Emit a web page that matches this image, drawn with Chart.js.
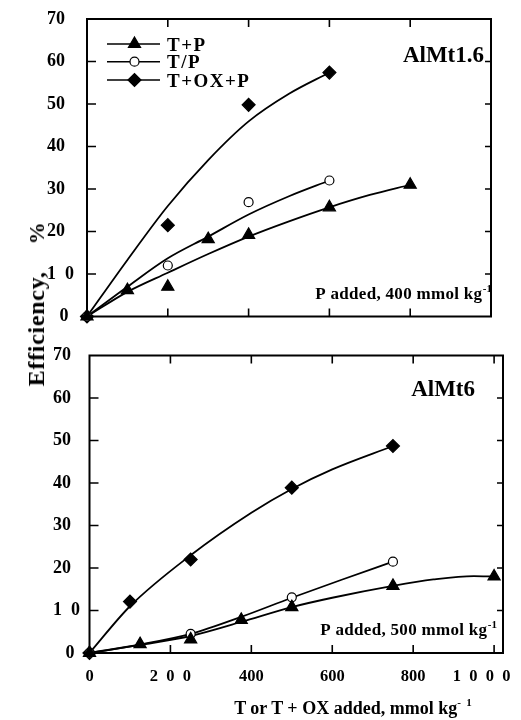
<!DOCTYPE html>
<html><head><meta charset="utf-8">
<script src="https://cdn.jsdelivr.net/npm/chart.js@4/dist/chart.umd.min.js"></script>
<style>
html,body{margin:0;padding:0;background:#fff;width:521px;height:720px;overflow:hidden;}
canvas{position:absolute;left:0;}
#c1{top:0;}
#c2{top:330px;}
.t{position:absolute;font-family:'Liberation Serif','Times New Roman',serif;font-weight:bold;color:#000;white-space:nowrap;line-height:1;}
#ytitle{left:36px;top:303.5px;font-size:24px;letter-spacing:0.7px;transform:translate(-50%,-50%) rotate(-90deg);}
#ytitle .pc{margin-left:27px;font-size:22px;}
#xtitle{left:353px;top:707px;font-size:18px;transform:translate(-50%,-50%);}
#xtitle sup{font-size:11px;vertical-align:8px;}
</style></head><body>
<canvas id="c1" width="521" height="330"></canvas>
<canvas id="c2" width="521" height="390"></canvas>
<div class="t" id="ytitle">Efficiency,<span class="pc">%</span></div>
<div class="t" id="xtitle">T or T + OX added, mmol kg<sup>- &nbsp;1</sup></div>
<script>
// ---------- data ----------
const seriesNames = ['T+P', 'T/P', 'T+OX+P'];
const yTickValues = [0, 10, 20, 30, 40, 50, 60, 70];
const yTickLabels = ['\u2002\u20090', '1\u20020', '20', '30', '40', '50', '60', '70'];
const xTickValues = [0, 200, 400, 600, 800, 1000];
const xTickLabels = ['0', '2\u20020\u20020', '400', '600', '800', '1\u20020\u20020\u20020\u2002\u2002\u2002'];

// Panel AlMt1.6 (P added 400 mmol/kg) - measured points
const top_TP_x = [0, 100, 200, 300, 400, 600, 800];
const top_TP_y = [0, 6.2, 7.0, 18.2, 19.2, 25.7, 31.0];
const top_TsP_x = [0, 200, 400, 600];
const top_TsP_y = [0, 12.0, 26.9, 32.0];
const top_TOXP_x = [0, 200, 400, 600];
const top_TOXP_y = [0, 21.5, 49.8, 57.4];
// Panel AlMt1.6 - fitted curves
const top_TP_fit_x = [0, 100, 200, 300, 400, 500, 600, 700, 800];
const top_TP_fit_y = [0, 5.8, 10.3, 14.7, 18.8, 22.4, 25.7, 28.6, 31.0];
const top_TsP_fit_x = [0, 100, 200, 300, 400, 500, 600];
const top_TsP_fit_y = [0, 7.0, 13.7, 18.8, 24.0, 28.3, 32.0];
const top_TOXP_fit_x = [0, 100, 200, 300, 400, 500, 600];
const top_TOXP_fit_y = [0, 13.3, 26.0, 36.8, 45.9, 52.4, 57.4];

// Panel AlMt6 (P added 500 mmol/kg) - measured points
const bot_TP_x = [0, 125, 250, 375, 500, 750, 1000];
const bot_TP_y = [0, 2.1, 3.2, 7.8, 10.8, 15.8, 18.0];
const bot_TsP_x = [0, 250, 500, 750];
const bot_TsP_y = [0, 4.5, 13.1, 21.5];
const bot_TOXP_x = [0, 100, 250, 500, 750];
const bot_TOXP_y = [0, 12.1, 22.0, 38.9, 48.7];
// Panel AlMt6 - fitted curves
const bot_TP_fit_x = [0, 125, 250, 375, 500, 600, 750, 850, 950, 1000];
const bot_TP_fit_y = [0, 1.9, 4.0, 7.3, 10.8, 13.0, 15.8, 17.3, 18.1, 18.0];
const bot_TsP_fit_x = [0, 125, 250, 375, 500, 625, 750];
const bot_TsP_fit_y = [0, 2.0, 4.5, 8.5, 13.0, 17.3, 21.5];
const bot_TOXP_fit_x = [0, 100, 250, 400, 500, 600, 750];
const bot_TOXP_fit_y = [0, 11.0, 23.0, 33.0, 38.6, 43.2, 48.7];

// ---------- helpers ----------
const FONT = "'Liberation Serif','Times New Roman',serif";
const pts = (xs, ys) => xs.map((x, i) => ({x: x, y: ys[i]}));
const markerStyles = [
  {pointStyle: 'triangle', radius: 7, fill: '#000'},
  {pointStyle: 'circle', radius: 4.5, fill: '#fff'},
  {pointStyle: 'rectRot', radius: 6.5, fill: '#000'}
];
function pointSet(i, xs, ys) {
  const m = markerStyles[i];
  return {label: seriesNames[i], data: pts(xs, ys), showLine: false,
    pointStyle: m.pointStyle, pointRadius: m.radius, pointHoverRadius: m.radius,
    pointBackgroundColor: m.fill, pointBorderColor: '#000', pointBorderWidth: 1.2,
    clip: false, order: 0};
}
function curveSet(i, xs, ys) {
  return {label: seriesNames[i] + ' fit', data: pts(xs, ys), showLine: true,
    borderColor: '#000', borderWidth: 1.8, pointRadius: 0, pointHoverRadius: 0,
    cubicInterpolationMode: 'monotone', fill: false, clip: false, order: 1};
}

const framePlugin = {
  id: 'frame',
  beforeDatasetsDraw(chart, args, o) {
    const {ctx, chartArea: a, scales: {x, y}} = chart;
    ctx.save();
    ctx.strokeStyle = '#000';
    ctx.lineWidth = 2;
    ctx.strokeRect(a.left, a.top, a.right - a.left, a.bottom - a.top);
    ctx.lineWidth = 1.6;
    ctx.beginPath();
    yTickValues.forEach(v => {
      if (v <= y.min || v >= y.max) return;
      const py = y.getPixelForValue(v);
      ctx.moveTo(a.left, py); ctx.lineTo(a.left + 9, py);
      ctx.moveTo(a.right, py); ctx.lineTo(a.right - 6, py);
    });
    xTickValues.forEach(v => {
      if (v <= x.min || v >= x.max) return;
      const px = x.getPixelForValue(v);
      ctx.moveTo(px, a.bottom); ctx.lineTo(px, a.bottom - 8);
      ctx.moveTo(px, a.top); ctx.lineTo(px, a.top + 8);
    });
    ctx.stroke();
    ctx.restore();
  },
  afterDraw(chart, args, o) {
    const {ctx, chartArea: a} = chart;
    ctx.save();
    ctx.fillStyle = '#000';
    // panel name
    ctx.font = 'bold 23px ' + FONT;
    ctx.textAlign = 'right';
    ctx.textBaseline = 'alphabetic';
    ctx.fillText(o.name, a.right + o.nameDx, a.top + o.nameDy);
    // P added note with superscript
    ctx.font = 'bold 11px ' + FONT;
    const supW = ctx.measureText('-1').width;
    const xr = a.right + o.noteDx;
    const by = a.bottom + o.noteDy;
    ctx.fillText('-1', xr, by - 7);
    ctx.font = 'bold 17px ' + FONT;
    try { ctx.letterSpacing = '0.3px'; } catch (e) {}
    ctx.fillText(o.note, xr - supW - 0.5, by);
    try { ctx.letterSpacing = '0px'; } catch (e) {}
    // legend
    if (o.legend) {
      const rows = [a.top + 25, a.top + 42.7, a.top + 61];
      ctx.lineWidth = 1.5;
      ctx.strokeStyle = '#000';
      rows.forEach((ry, i) => {
        ctx.beginPath();
        ctx.moveTo(a.left + 20, ry); ctx.lineTo(a.left + 73, ry);
        ctx.stroke();
        const m = markerStyles[i];
        ctx.fillStyle = m.fill;
        ctx.lineWidth = 1.2;
        Chart.helpers.drawPoint(ctx, {pointStyle: m.pointStyle, radius: m.radius, rotation: 0, borderWidth: 1.2}, a.left + 47.5, ry);
        ctx.lineWidth = 1.5;
        ctx.fillStyle = '#000';
        ctx.font = 'bold 19px ' + FONT;
        ctx.textAlign = 'left';
        try { ctx.letterSpacing = '1.5px'; } catch (e) {}
        ctx.fillText(seriesNames[i], a.left + 80, ry + 6.5);
        try { ctx.letterSpacing = '0px'; } catch (e) {}
      });
    }
    ctx.restore();
  }
};

function makeChart(id, cfg) {
  return new Chart(document.getElementById(id), {
    type: 'scatter',
    data: {datasets: cfg.datasets},
    plugins: [framePlugin],
    options: {
      responsive: false, animation: false, events: [],
      layout: {padding: {top: cfg.padTop, right: cfg.padRight, bottom: 0, left: cfg.padLeft}},
      plugins: {legend: {display: false}, tooltip: {enabled: false}, frame: cfg.frame},
      scales: {
        x: {
          type: 'linear', min: 0, max: cfg.xMax,
          grid: {display: false, drawTicks: false}, border: {display: false},
          afterBuildTicks: s => { s.ticks = xTickValues.map(v => ({value: v})); },
          afterFit: s => { s.height = cfg.xHeight; s.paddingLeft = 0; s.paddingRight = 0; },
          ticks: {display: cfg.xLabels, padding: 14, color: '#000', maxRotation: 0, autoSkip: false,
            font: {family: FONT, weight: 'bold', size: 16.5},
            callback: v => xTickLabels[xTickValues.indexOf(v)]}
        },
        y: {
          type: 'linear', min: 0, max: 70,
          grid: {display: false, drawTicks: false}, border: {display: false},
          afterBuildTicks: s => { s.ticks = yTickValues.map(v => ({value: v})); },
          afterFit: s => { s.width = cfg.yWidth; s.paddingTop = 0; s.paddingBottom = 0; },
          ticks: {padding: 0, crossAlign: 'far', color: '#000', autoSkip: false,
            font: {family: FONT, weight: 'bold', size: 18},
            callback: v => yTickLabels[yTickValues.indexOf(v)]}
        }
      }
    }
  });
}

makeChart('c1', {
  datasets: [
    pointSet(0, top_TP_x, top_TP_y), pointSet(1, top_TsP_x, top_TsP_y), pointSet(2, top_TOXP_x, top_TOXP_y),
    curveSet(0, top_TP_fit_x, top_TP_fit_y), curveSet(1, top_TsP_fit_x, top_TsP_fit_y), curveSet(2, top_TOXP_fit_x, top_TOXP_fit_y)
  ],
  padTop: 19, padRight: 30, padLeft: 47, xMax: 1000, xHeight: 13.5, xLabels: false, yWidth: 40,
  frame: {name: 'AlMt1.6', nameDx: -7, nameDy: 43, note: 'P added, 400 mmol kg', noteDx: 1, noteDy: -17.5, legend: true}
});

makeChart('c2', {
  datasets: [
    pointSet(0, bot_TP_x, bot_TP_y), pointSet(1, bot_TsP_x, bot_TsP_y), pointSet(2, bot_TOXP_x, bot_TOXP_y),
    curveSet(0, bot_TP_fit_x, bot_TP_fit_y), curveSet(1, bot_TsP_fit_x, bot_TsP_fit_y), curveSet(2, bot_TOXP_fit_x, bot_TOXP_fit_y)
  ],
  padTop: 25.5, padRight: 18, padLeft: 53, xMax: 1022, xHeight: 67, xLabels: true, yWidth: 36.5,
  frame: {name: 'AlMt6', nameDx: -28, nameDy: 40, note: 'P added, 500 mmol kg', noteDx: -6, noteDy: -18, legend: false}
});
</script>
</body></html>
